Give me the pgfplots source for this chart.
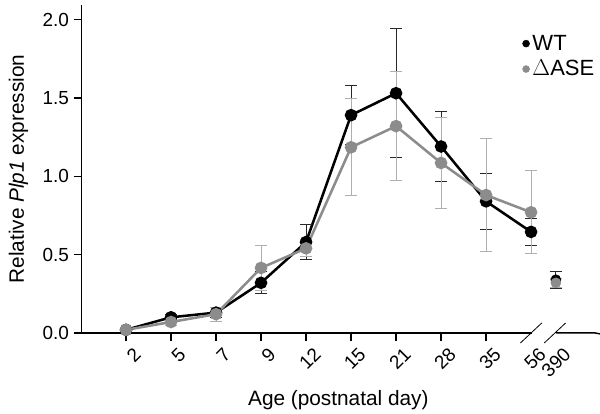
\documentclass[border=0pt]{standalone}
\usepackage{fontspec}
\setmainfont{Liberation Sans}
\usepackage{pgfplots}
\pgfplotsset{compat=1.18}
\usepackage{pgfplotstable}
\definecolor{asegray}{RGB}{140,140,140}
\definecolor{aseerr}{RGB}{175,175,175}
\definecolor{wterr}{RGB}{40,40,40}

\pgfplotstableread{
x y e
0 0.02 0.005
1 0.10 0.015
2 0.13 0.03
3 0.32 0.07
4 0.58 0.11
5 1.39 0.19
6 1.53 0.41
7 1.19 0.225
8 0.84 0.18
9 0.645 0.085
}\wtdata
\pgfplotstableread{
x y e
9.55 0.34 0.055
}\wtlate
\pgfplotstableread{
x y e
0 0.02 0.005
1 0.07 0.02
2 0.12 0.045
3 0.415 0.145
4 0.54 0.055
5 1.185 0.31
6 1.32 0.35
7 1.085 0.29
8 0.88 0.36
9 0.77 0.265
}\asedata
\pgfplotstableread{
x y e
9.55 0.32 0.03
}\aselate

\begin{document}
\begin{tikzpicture}
\begin{axis}[
  scale only axis,
  width=385pt, height=246pt,
  xmin=-0.984, xmax=10.42,
  ymin=0, ymax=2.093,
  axis y line*=left,
  axis x line*=bottom,
  axis line style={-, line width=1.1pt},
  x axis line style={draw=none},
  tick align=outside,
  major tick length=6pt,
  tick style={line width=1.1pt, black},
  xtick={0,1,2,3,4,5,6,7,8},
  xticklabels={2,5,7,9,12,15,21,28,35},
  extra x ticks={9,9.55},
  extra x tick labels={56,390},
  extra x tick style={major tick style={draw=none}},
  ytick={0,0.5,1,1.5,2},
  yticklabel style={/pgf/number format/fixed, /pgf/number format/fixed zerofill, /pgf/number format/precision=1},
  /pgf/number format/assume math mode=true,
  tick label style={font=\fontsize{14.2}{16}\selectfont},
  xticklabel style={rotate=45, anchor=east, xshift=4pt, yshift=-11.5pt},
  xlabel={Age (postnatal day)},
  ylabel={Relative \textit{Plp1} expression},
  label style={font=\fontsize{15.6}{18}\selectfont},
  xlabel style={at={(axis description cs:0.5,0)}, anchor=base, yshift=-54.75pt},
  ylabel shift=4pt,
  legend style={at={(axis cs:8.8,1.92)}, anchor=north west, draw=none, fill=none, inner sep=0pt,
    font=\fontsize{16.5}{19}\selectfont, row sep=2pt},
  legend cell align=left,
  legend image code/.code={\fill (0.22cm,0cm) circle (2.6pt);},
  clip=false,
]
\addlegendimage{black}
\addlegendentry{WT}
\addlegendimage{asegray}
\addlegendentry{$\Delta$ASE}

\addplot[black, line width=1.9pt, mark=*, mark size=3.75pt, forget plot,
  error bars/.cd, y dir=both, y explicit,
  error bar style={line width=0.75pt, wterr},
  error mark options={line width=0.75pt, wterr, mark size=4.5pt, rotate=90}]
  table[x=x, y=y, y error=e]{\wtdata};
\addplot[black, only marks, mark=*, mark size=3.75pt, forget plot,
  error bars/.cd, y dir=both, y explicit,
  error bar style={line width=0.75pt, wterr},
  error mark options={line width=0.75pt, wterr, mark size=4.5pt, rotate=90}]
  table[x=x, y=y, y error=e]{\wtlate};
\addplot[asegray, line width=1.9pt, mark=*, mark size=3.75pt, forget plot,
  error bars/.cd, y dir=both, y explicit,
  error bar style={line width=0.75pt, aseerr},
  error mark options={line width=0.75pt, aseerr, mark size=4.5pt, rotate=90}]
  table[x=x, y=y, y error=e]{\asedata};
\addplot[asegray, only marks, mark=*, mark size=3.75pt, forget plot,
  error bars/.cd, y dir=both, y explicit,
  error bar style={line width=0.75pt, aseerr},
  error mark options={line width=0.75pt, aseerr, mark size=4.5pt, rotate=90}]
  table[x=x, y=y, y error=e]{\aselate};

\draw[line width=1.1pt] (rel axis cs:0,0) -- (axis cs:9.02,0);
\draw[line width=1.1pt] (axis cs:9.55,0) -- (rel axis cs:1,0) -- ++(0,-6pt);
\draw[line width=0.6pt] (axis cs:9.0,0) ++(-8pt,-7.5pt) -- ++(16pt,15pt);
\draw[line width=0.6pt] (axis cs:9.53,0) ++(-8pt,-7.5pt) -- ++(16pt,15pt);
\end{axis}
\pgfresetboundingbox
\path ([xshift=-61.3pt,yshift=-60.75pt]current axis.south west) rectangle ([xshift=3.75pt,yshift=3.75pt]current axis.north east);
\end{tikzpicture}
\end{document}
